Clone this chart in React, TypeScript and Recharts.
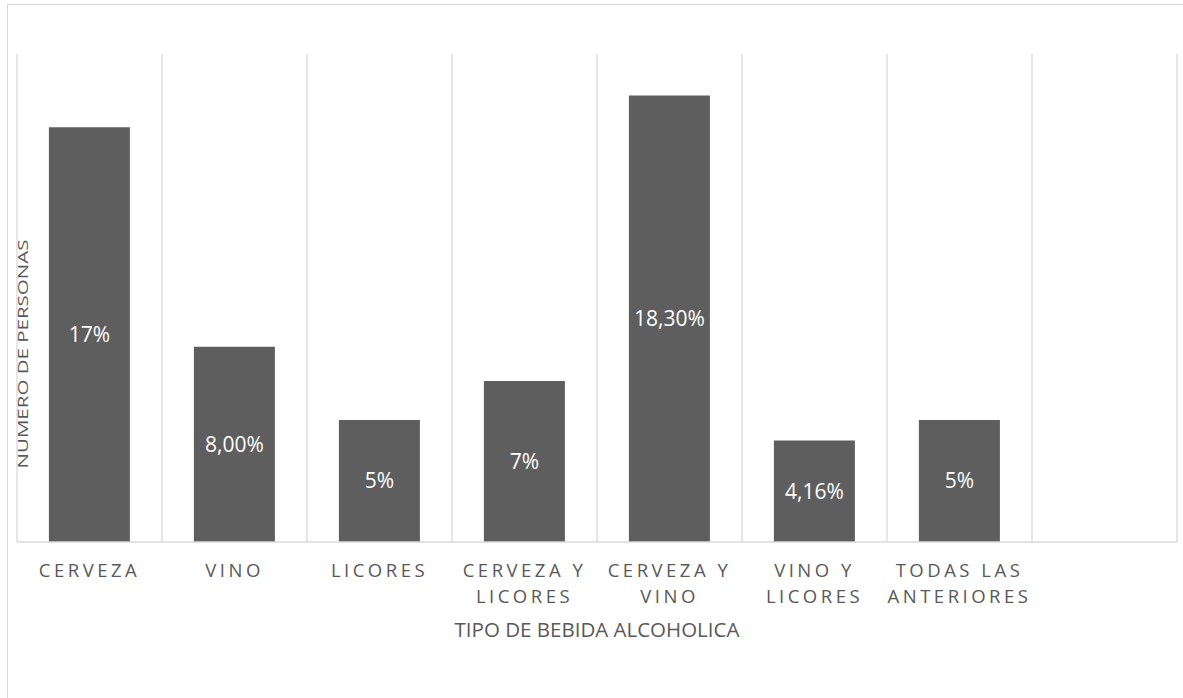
import { Bar, BarChart, CartesianGrid, LabelList, XAxis, YAxis } from "recharts";

const categories = [
  "CERVEZA",
  "VINO",
  "LICORES",
  "CERVEZA Y LICORES",
  "CERVEZA Y VINO",
  "VINO Y LICORES",
  "TODAS LAS ANTERIORES",
  "",
];
const values = [17, 8, 5, 6.6, 18.3, 4.16, 5, null];
const valueLabels = ["17%", "8,00%", "5%", "7%", "18,30%", "4,16%", "5%", ""];

const data = categories.map((name, i) => ({
  name,
  value: values[i],
  label: valueLabels[i],
}));

const FONT = "'Open Sans', sans-serif";
const TEXT = "#595959";
const GRID = "#d9d9d9";

// greedy word wrap, roughly what excel does for these labels
const wrap = (s: string, max = 10) => {
  const lines: string[] = [];
  let cur = "";
  s.split(" ").forEach((w) => {
    if (cur && (cur + " " + w).length > max) {
      lines.push(cur);
      cur = w;
    } else {
      cur = cur ? cur + " " + w : w;
    }
  });
  if (cur) lines.push(cur);
  return lines;
};

const CategoryTick = ({ x, y, payload }: any) => {
  const lines = wrap(payload.value);
  return (
    <g transform={`translate(${x},${y})`}>
      <text textAnchor="middle" fill={TEXT} fontSize={18.5} letterSpacing={3.5} fontFamily={FONT}>
        {lines.map((l, i) => (
          <tspan key={i} x={0} y={35 + i * 26}>
            {l}
          </tspan>
        ))}
      </text>
    </g>
  );
};

export default function App() {
  return (
    <div
      style={{
        position: "absolute",
        left: 0,
        top: 0,
        width: 1183,
        height: 698,
        overflow: "hidden",
        background: "#fff",
      }}
    >
      <div
        style={{
          position: "absolute",
          left: 7,
          top: 4,
          width: 1200,
          height: 720,
          border: `1px solid ${GRID}`,
        }}
      />
      <BarChart
        width={1183}
        height={698}
        data={data}
        margin={{ top: 54, right: 6, bottom: 0, left: 17 }}
        barCategoryGap="22%"
        style={{ position: "absolute", left: 0, top: 0 }}
      >
        <CartesianGrid
          horizontal={false}
          stroke={GRID}
          strokeWidth={1.3}
          verticalCoordinatesGenerator={({ offset }: any) =>
            [...categories, "end"].map(
              (_, i) => offset.left + (i * offset.width) / categories.length
            )
          }
        />
        <XAxis
          dataKey="name"
          height={156}
          interval={0}
          tickLine={false}
          tickSize={0}
          tickMargin={0}
          axisLine={{ stroke: GRID, strokeWidth: 1.3 }}
          tick={<CategoryTick />}
          label={{
            value: "TIPO DE BEBIDA ALCOHOLICA",
            position: "insideBottom",
            offset: 61,
            fill: TEXT,
            fontSize: 20.5,
            fontFamily: FONT,
          }}
        />
        <YAxis domain={[0, 20]} width={0} tick={false} tickLine={false} axisLine={false} />
        <Bar dataKey="value" fill="#5e5e5e" isAnimationActive={false}>
          <LabelList
            dataKey="label"
            position="center"
            fill="#ffffff"
            fontSize={21}
            fontFamily={FONT}
          />
        </Bar>
      </BarChart>
      {/* y axis title, squashed like in the source image */}
      <svg
        width={40}
        height={698}
        style={{ position: "absolute", left: 0, top: 0, pointerEvents: "none" }}
      >
        <text
          transform="translate(28,354) scale(0.7,1) rotate(-90)"
          textAnchor="middle"
          fill={TEXT}
          fontSize={20.5}
          fontFamily={FONT}
        >
          NUMERO DE PERSONAS
        </text>
      </svg>
    </div>
  );
}
